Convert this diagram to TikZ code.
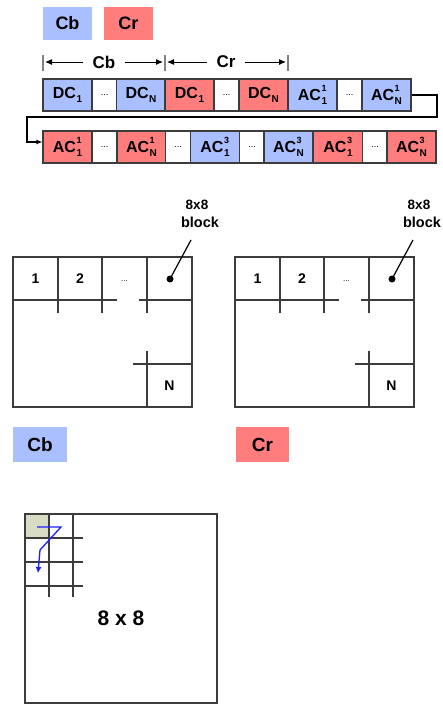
\documentclass[tikz,border=0pt]{standalone}
\usepackage{fontspec}
\setmainfont{Liberation Sans}
\usetikzlibrary{arrows.meta}
\definecolor{cbblue}{RGB}{170,191,255}
\definecolor{crred}{RGB}{255,125,125}
\definecolor{bord}{RGB}{60,60,60}
\definecolor{shadecell}{RGB}{216,220,196}
\definecolor{zig}{RGB}{30,30,255}
\newcommand{\dcsym}[1]{DC\kern0.5pt\raisebox{-0.2em}{\fontsize{10}{10}\selectfont #1}}
\newcommand{\acsym}[2]{AC\kern0.5pt\rlap{\raisebox{0.55em}{\fontsize{9}{9}\selectfont #2}}\raisebox{-0.25em}{\fontsize{10}{10}\selectfont #1}}
\tikzset{
  cellbox/.style={draw=bord, line width=1.1pt, minimum height=32pt, inner sep=0pt, font=\fontsize{16}{16}\selectfont\bfseries},
  wide/.style={cellbox, minimum width=49pt},
  narrow/.style={cellbox, minimum width=25pt, fill=white, font=\fontsize{9}{9}\selectfont},
  legend/.style={inner sep=0pt, font=\fontsize{18}{18}\selectfont\bfseries},
  gridline/.style={draw=bord, line width=1.4pt},
  tick/.style={draw=gray, line width=1.2pt},
  span/.style={draw=black, line width=1pt, -{Latex[length=7pt,width=6pt]}},
  conn/.style={draw=black, line width=1.1pt},
  lbl/.style={font=\fontsize{14}{14}\selectfont\bfseries, inner sep=0pt}
}
\begin{document}
\begin{tikzpicture}[x=1pt,y=-1pt]
\useasboundingbox (0,0) rectangle (442,704);
\fill[white] (0,0) rectangle (442,704);

% top legend
\node[legend, fill=cbblue, minimum width=49pt, minimum height=33pt] (legcb) at (67.5,23.5) {Cb};
\node[legend, fill=crred, minimum width=49pt, minimum height=33pt] (legcr) at (128.5,23.5) {Cr};

% span markers
\coordinate (ta) at (43,62);
\coordinate (tb) at (165,62);
\coordinate (tc) at (288,62);
\draw[tick] (43,55) -- (43,71);
\draw[tick] (165,55) -- (165,71);
\draw[tick] (288,55) -- (288,71);
\node[legend, font=\fontsize{17}{17}\selectfont\bfseries, inner xsep=9pt] (spcb) at (104,62) {Cb};
\node[legend, font=\fontsize{17}{17}\selectfont\bfseries, inner xsep=9pt] (spcr) at (226,62) {Cr};
\draw[span] (spcb.west) -- ([xshift=2pt]ta);
\draw[span] (spcb.east) -- ([xshift=-2pt]tb);
\draw[span] (spcr.west) -- ([xshift=2pt]tb);
\draw[span] (spcr.east) -- ([xshift=-2pt]tc);

% row 1
\node[wide, fill=cbblue] (r1a) at (67.5,95) {\dcsym{1}};
\node[narrow] (r1b) at (104.5,95) {...};
\node[wide, fill=cbblue] (r1c) at (141,95) {\dcsym{N}};
\node[wide, fill=crred] (r1d) at (189.5,95) {\dcsym{1}};
\node[narrow] (r1e) at (226.5,95) {...};
\node[wide, fill=crred] (r1f) at (263.5,95) {\dcsym{N}};
\node[wide, fill=cbblue] (r1g) at (312.5,95) {\acsym{1}{1}};
\node[narrow] (r1h) at (349.5,95) {...};
\node[wide, fill=cbblue] (r1n) at (386.5,95) {\acsym{N}{1}};

% row 2
\node[wide, fill=crred] (r2a) at (67.5,147) {\acsym{1}{1}};
\node[narrow] (r2b) at (104.5,147) {...};
\node[wide, fill=crred] (r2c) at (141.5,147) {\acsym{N}{1}};
\node[narrow] (r2d) at (178,147) {...};
\node[wide, fill=cbblue] (r2e) at (215,147) {\acsym{1}{3}};
\node[narrow] (r2f) at (252,147) {...};
\node[wide, fill=cbblue] (r2g) at (288.5,147) {\acsym{N}{3}};
\node[wide, fill=crred] (r2h) at (338,147) {\acsym{1}{3}};
\node[narrow] (r2i) at (375,147) {...};
\node[wide, fill=crred] (r2j) at (411.5,147) {\acsym{N}{3}};

% wrap connector
\coordinate (c1) at (437,117);
\coordinate (c2) at (27,142);
\draw[conn, -{Latex[length=6pt,width=5pt]}] (r1n.east) -| (c1) -| (c2) -- (c2 -| r2a.west);

% two grids
\foreach \off/\nm in {0/L,222/R}{
  \begin{scope}[xshift=\off]
    \draw[gridline] (13,257) rectangle (192,407);
    \draw[gridline] (58,257) -- (58,313);
    \draw[gridline] (102,257) -- (102,313);
    \draw[gridline] (147,257) -- (147,313);
    \draw[gridline] (13,300) -- (117,300);
    \draw[gridline] (139,300) -- (192,300);
    \draw[gridline] (147,351) -- (147,407);
    \draw[gridline] (133,364) -- (192,364);
    \node[lbl] (one\nm) at (35.5,279) {1};
    \node[lbl] (two\nm) at (80,279) {2};
    \node[lbl, font=\fontsize{8}{8}\selectfont] (dots\nm) at (124.5,281) {...};
    \node[lbl] (n\nm) at (169.5,386) {N};
    \node[circle, fill=black, inner sep=0pt, minimum size=7pt] (dot\nm) at (170,279) {};
    \node[lbl, font=\fontsize{13.5}{13.5}\selectfont\bfseries] (blka\nm) at (197,205) {8x8};
    \node[lbl, font=\fontsize{14.5}{14.5}\selectfont\bfseries] (blkb\nm) at (200,222) {block};
    \draw[line width=1.2pt] (dot\nm.center) -- (191,240);
  \end{scope}
}

% lower labels
\node[legend, fill=cbblue, minimum width=54pt, minimum height=35pt, font=\fontsize{19}{19}\selectfont\bfseries] (lcb) at (40,444.5) {Cb};
\node[legend, fill=crred, minimum width=53pt, minimum height=35pt, font=\fontsize{19}{19}\selectfont\bfseries] (lcr) at (262.5,444.5) {Cr};

% 8x8 block
\fill[shadecell] (25,514) rectangle (49,538);
\draw[gridline] (25,514) rectangle (217,703);
\draw[gridline] (49,514) -- (49,597);
\draw[gridline] (73,514) -- (73,597);
\draw[gridline] (25,538) -- (83,538);
\draw[gridline] (25,562) -- (83,562);
\draw[gridline] (25,586) -- (83,586);
\draw[draw=zig, line width=1.3pt, -{Latex[length=6pt,width=6pt]}] (37,527) -- (61,527) -- (40,550) -- (38,573);
\node[lbl, font=\fontsize{21}{21}\selectfont\bfseries] (eight) at (121,618) {8 x 8};
\end{tikzpicture}
\end{document}
